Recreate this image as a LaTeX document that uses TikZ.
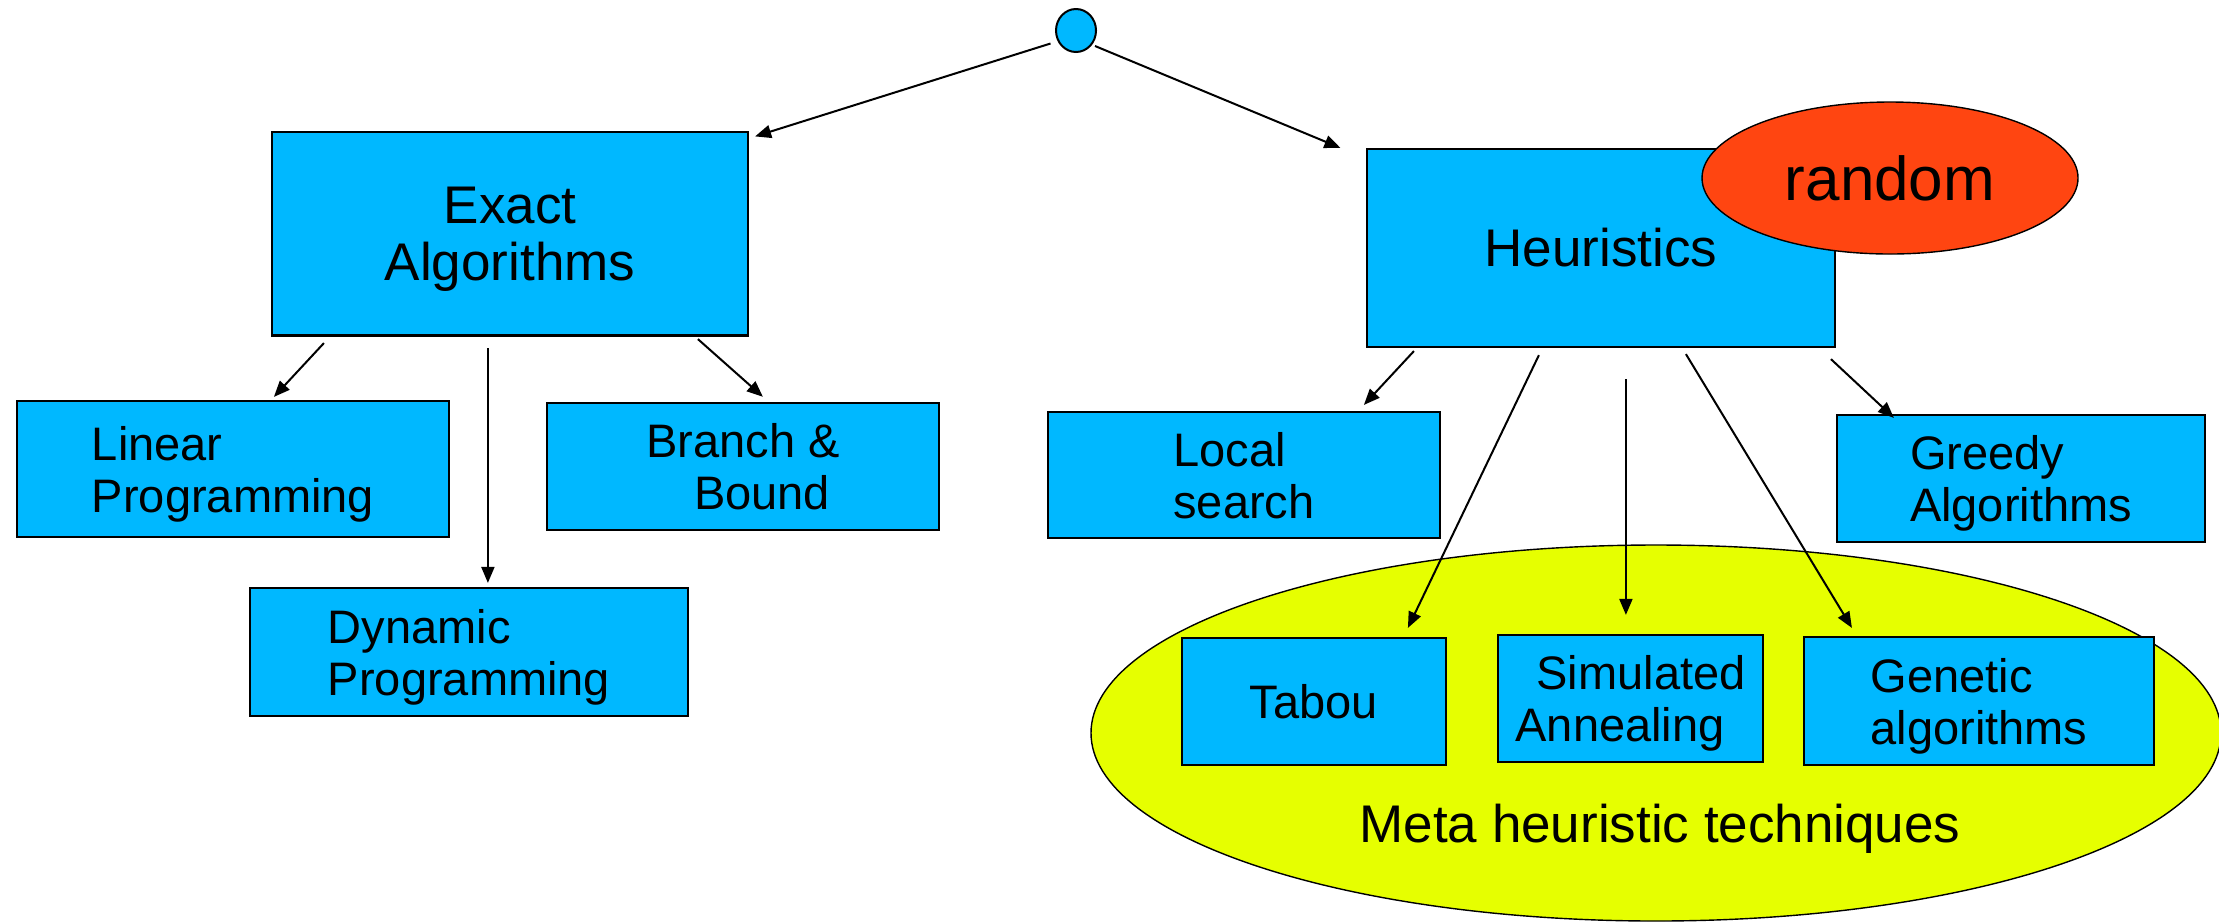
\documentclass[tikz,border=0pt]{standalone}
\usepackage{fontspec}
\setmainfont{Liberation Sans}
\usetikzlibrary{arrows.meta,calc,shapes.geometric}
\definecolor{boxblue}{RGB}{0,184,255}
\definecolor{redfill}{RGB}{255,69,17}
\definecolor{limefill}{RGB}{230,255,0}
\newcommand{\lastln}[1]{\raisebox{0pt}[\height][0pt]{#1}}
\begin{document}
\begin{tikzpicture}[x=0.5pt,y=-0.5pt,
  box/.style={draw=black, line width=1.1pt, fill=boxblue, rectangle, inner sep=0pt,
              font=\fontsize{23.5}{26}\selectfont},
  bigbox/.style={box, font=\fontsize{26.5}{28.7}\selectfont},
  arr/.style={-{Triangle[length=8pt,width=6.5pt]}, line width=1pt},
]
\useasboundingbox (0,0) rectangle (2219,923);

% background ellipse
\node[ellipse, draw=black, line width=0.7pt, fill=limefill, inner sep=0pt,
      minimum width=565pt, minimum height=188pt] (meta) at (1656,733) {};
\node[font=\fontsize{26.5}{28}\selectfont, anchor=base] (metalabel) at (1660,842) {Meta heuristic techniques};

% root
\node[ellipse, draw=black, line width=1pt, fill=boxblue, inner sep=0pt,
      minimum width=20pt, minimum height=21.5pt] (root) at (1076,30.5) {};

% level 1
\node[bigbox, align=center, minimum width=238pt, minimum height=101.75pt] (exact) at (510,233.75)
  {Exact\\\lastln{Algorithms}};
\node[bigbox, minimum width=234pt, minimum height=99pt] (heur) at (1601,248) {Heuristics};
\node[ellipse, draw=black, line width=0.7pt, fill=redfill, inner sep=0pt,
      minimum width=188pt, minimum height=76pt, font=\fontsize{31}{33}\selectfont] (random) at (1890,178) {random};

% exact children
\node[box, align=left, minimum width=216pt, minimum height=68pt] (lin) at (233,469)
  {Linear\\\lastln{Programming}};
\node[box, align=center, minimum width=196pt, minimum height=63.5pt] (bb) at (743,466.7)
  {Branch \&\\\hspace*{19pt}\lastln{Bound}};
\node[box, align=left, minimum width=219pt, minimum height=64pt] (dyn) at (469,652)
  {Dynamic\\\lastln{Programming}};

% heuristics children
\node[box, align=left, minimum width=196pt, minimum height=63.3pt] (local) at (1244,475)
  {Local\\\lastln{search}};
\node[box, align=left, minimum width=183.7pt, minimum height=63.5pt] (greedy) at (2021,478.2)
  {Greedy\\\lastln{Algorithms}};
\node[box, minimum width=132pt, minimum height=63.5pt] (tabou) at (1314,701.5) {Tabou};
\node[box, align=left, minimum width=132.5pt, minimum height=63.5pt] (sim) at (1630.5,698.5)
  {\hspace*{10.5pt}Simulated\\\lastln{Annealing}};
\node[box, align=left, minimum width=175pt, minimum height=64pt] (gen) at (1979,701)
  {Genetic\\\lastln{algorithms}};

% connectors
\draw[arr] ($(root.center)+(-25.5,13)$) -- ($(exact.north east)+(6,5.5)$);
\draw[arr] ($(root.center)+(19,15.5)$) -- ($(heur.north west)+(-25.5,0)$);

\draw[arr] ($(exact.south west)+(53,6.5)$) -- ($(lin.north west)+(258,-3)$);
\draw[arr] ($(exact.south west)+(217,11.5)$) -- ($(dyn.north west)+(239,-4)$);
\draw[arr] ($(exact.south west)+(427,2.5)$) -- ($(bb.north west)+(217,-5.3)$);

\draw[arr] ($(heur.south west)+(48,3)$) -- ($(local.north west)+(317,-5.7)$);
\draw[arr] ($(heur.south west)+(173,7)$) -- ($(tabou.north west)+(227,-9)$);
\draw[arr] ($(heur.south west)+(260,31)$) -- ($(sim.north west)+(129,-19)$);
\draw[arr] ($(heur.south west)+(320,6)$) -- ($(gen.north west)+(49,-8)$);
\draw[arr] ($(heur.south west)+(465,11)$) -- ($(greedy.north west)+(57.7,4.3)$);
\end{tikzpicture}
\end{document}
